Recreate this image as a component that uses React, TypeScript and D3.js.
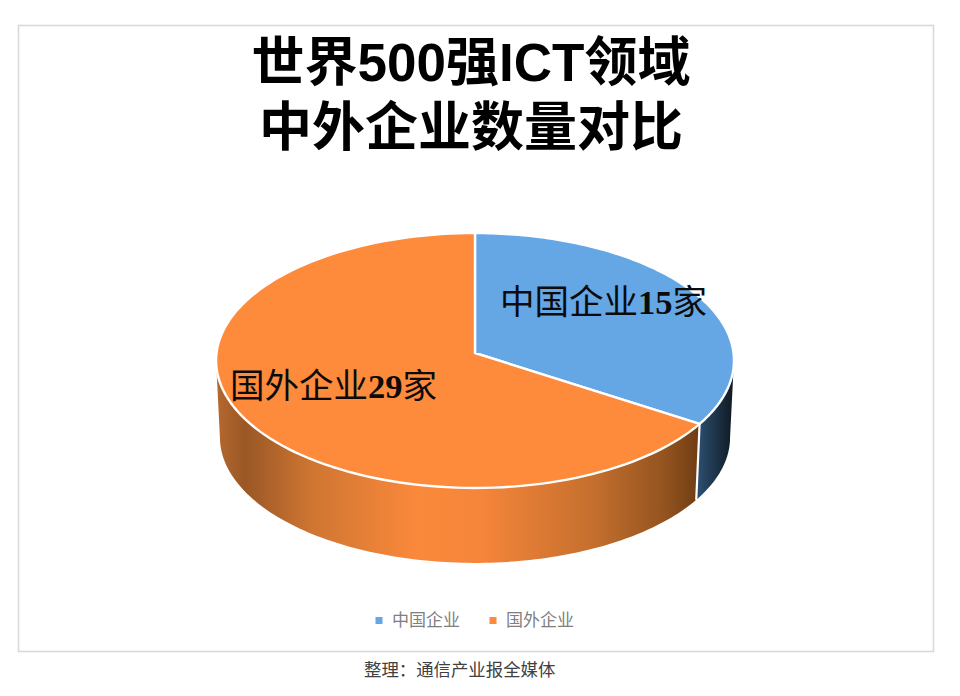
import * as d3 from "d3";

const categories = ["中国企业", "国外企业"];
const values = [15, 29];
const units = ["家", "家"];
const titleLines = ["世界500强ICT领域", "中外企业数量对比"];
const source = "整理：通信产业报全媒体";

const topColors = ["#65a6e5", "#fe8a3c"];

const width = 960;
const height = 696;
const cx = 475;
const apexY = 353;
const depth = 77;
const persp = 0.0588;
const radiusX = 258.5;
const radiusY = 127;
const baseScale = 0.985;

// tilted circle -> screen, keeps the far half a bit flatter than the near half
const project = (a: number, s = 1, dy = 0): [number, number] => {
  const w = 1 + persp * Math.cos(a);
  return [
    cx + (s * radiusX * Math.sin(a)) / w,
    apexY + dy - (s * radiusY * Math.cos(a)) / w,
  ];
};

const arcPoints = (a0: number, a1: number, s = 1, dy = 0) =>
  d3.range(121).map((i) => project(a0 + ((a1 - a0) * i) / 120, s, dy));

const line = d3.line();

const pie = d3
  .pie<number>()
  .sort(null)
  .value((d) => d);
const slices = pie(values);

// the wall only shows between the left and right extremes of the rim
const frontStart = Math.acos(-persp);
const frontEnd = 2 * Math.PI - frontStart;

const labelPos = [
  { x: 500, y: 314 },
  { x: 230, y: 398 },
];
const legendX = [379, 493];

const cjk = '"Noto Sans CJK SC", sans-serif';

export default function App() {
  return (
    <svg
      width={width}
      height={height}
      viewBox={`0 0 ${width} ${height}`}
      style={{ position: "absolute", left: 0, top: 0, background: "#fff" }}
    >
      <defs>
        <linearGradient
          id="wall-0"
          gradientUnits="userSpaceOnUse"
          x1={699}
          x2={734}
          y1={0}
          y2={0}
        >
          <stop offset="0" stopColor="#2b4d6e" />
          <stop offset="0.5" stopColor="#1d3347" />
          <stop offset="1" stopColor="#10181f" />
        </linearGradient>
        <linearGradient
          id="wall-1"
          gradientUnits="userSpaceOnUse"
          x1={216}
          x2={699}
          y1={0}
          y2={0}
        >
          <stop offset="0" stopColor="#b5692e" />
          <stop offset="0.06" stopColor="#9a5726" />
          <stop offset="0.2" stopColor="#cf7632" />
          <stop offset="0.42" stopColor="#fb893b" />
          <stop offset="0.55" stopColor="#f5853a" />
          <stop offset="0.78" stopColor="#c56f2e" />
          <stop offset="0.93" stopColor="#93531f" />
          <stop offset="1" stopColor="#6f3d14" />
        </linearGradient>
      </defs>

      <rect
        x={18.5}
        y={25.5}
        width={915}
        height={626}
        fill="#fff"
        stroke="#d9d9d9"
        strokeWidth={1.6}
      />

      <g
        textAnchor="middle"
        fontFamily={`"Liberation Sans", ${cjk}`}
        fontWeight={700}
        fontSize={53}
        fill="#000"
      >
        {titleLines.map((t, i) => (
          <text key={t} x={471} y={81 + i * 65}>
            {t}
          </text>
        ))}
      </g>

      {/* side walls go first, the top surface covers their back part */}
      {slices.map((s, i) => {
        const a0 = Math.max(s.startAngle, frontStart);
        const a1 = Math.min(s.endAngle, frontEnd);
        const upper = arcPoints(a0, a1);
        const lower = arcPoints(a1, a0, baseScale, depth);
        return (
          <path
            key={`wall-${i}`}
            d={line([...upper, ...lower]) + "Z"}
            fill={`url(#wall-${i})`}
          />
        );
      })}
      {/* seam between the two walls */}
      {slices.slice(0, 1).map((s) => (
        <path
          key="seam"
          d={
            line([
              project(s.endAngle),
              project(s.endAngle, baseScale, depth),
            ]) as string
          }
          stroke="#fff"
          strokeWidth={2.2}
          fill="none"
        />
      ))}

      {slices.map((s, i) => (
        <path
          key={`top-${i}`}
          d={
            line([
              [cx, apexY],
              ...arcPoints(s.startAngle, s.endAngle),
            ]) + "Z"
          }
          fill={topColors[i]}
          stroke="#fff"
          strokeWidth={2.4}
          strokeLinejoin="round"
        />
      ))}

      {categories.map((c, i) => (
        <text
          key={`label-${c}`}
          x={labelPos[i].x}
          y={labelPos[i].y}
          fontSize={34.5}
          fontFamily={cjk}
          fill="#0b0b0b"
        >
          {c}
          <tspan fontFamily='"Liberation Serif", serif' fontWeight={700}>
            {values[i]}
          </tspan>
          {units[i]}
        </text>
      ))}

      {categories.map((c, i) => (
        <g key={`legend-${c}`}>
          <rect
            x={legendX[i] - 3.5}
            y={617}
            width={7}
            height={7}
            fill={topColors[i]}
          />
          <text
            x={legendX[i] + 13}
            y={626}
            fontSize={17}
            fontFamily={cjk}
            fill="#7f7f7f"
          >
            {c}
          </text>
        </g>
      ))}

      <text x={364} y={676} fontSize={17.4} fontFamily={cjk} fill="#404040">
        {source}
      </text>
    </svg>
  );
}
